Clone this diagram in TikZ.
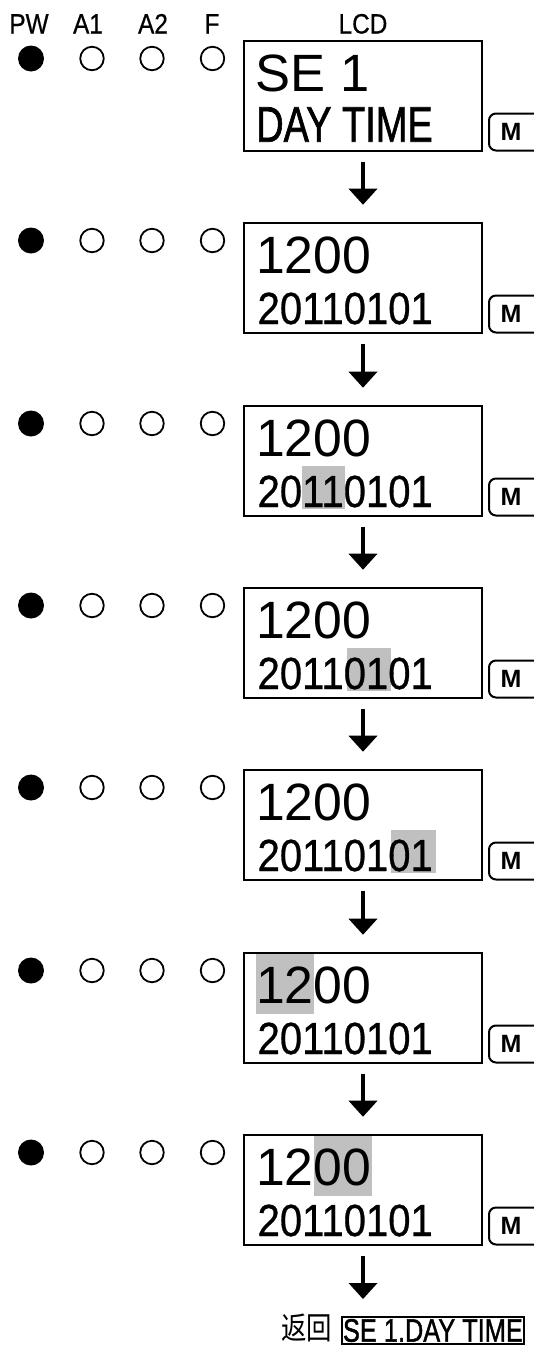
\documentclass[tikz,border=0pt]{standalone}
\usepackage{fontspec}
\setmainfont{Liberation Sans}
\newfontfamily\narrowfont[FakeBold=1.5]{Liberation Sans}
\newfontfamily\midfont[FakeBold=0.7]{Liberation Sans}
\newfontfamily\cjk{Noto Sans CJK SC}
\usepackage{graphicx}
\usetikzlibrary{arrows.meta,backgrounds}
\newcommand\fs[1]{\fontsize{#1}{#1}\selectfont}
\definecolor{hlgray}{RGB}{192,192,192}
\begin{document}
\begin{tikzpicture}[x=1pt,y=-1pt,
  lcd/.style={draw,line width=2.3pt,minimum width=238pt,minimum height=110pt,inner sep=0pt,outer sep=0pt,anchor=north west},
  ledon/.style={circle,fill=black,minimum size=26pt,inner sep=0pt},
  ledoff/.style={circle,draw,line width=1.8pt,minimum size=23.5pt,inner sep=0pt},
  hdr/.style={inner sep=0pt,anchor=base,font=\midfont\fs{28}},
  big/.style={inner sep=0pt,anchor=base west,font=\fs{52.5}},
  small/.style={inner sep=0pt,anchor=base west,font=\midfont\fs{45}},
  btn/.style={draw,line width=2pt,rounded corners=7pt,anchor=west,minimum height=37pt,minimum width=72pt,inner sep=0pt,outer sep=0pt},
  btntext/.style={inner sep=0pt,font=\fs{25}\bfseries},
  flow/.style={line width=3.7pt,-{Triangle[width=29pt,length=16pt,line width=0pt]}}
]
\useasboundingbox (0,0) rectangle (534,1347);
\clip (0,0) rectangle (534,1347);
% headers
\node[hdr] (hpw) at (29,33.5) {\scalebox{0.87}[1]{PW}};
\node[hdr] (ha1) at (88,33.5) {\scalebox{0.87}[1]{A1}};
\node[hdr] (ha2) at (153,33.5) {\scalebox{0.87}[1]{A2}};
\node[hdr] (hf) at (212,33.5) {\scalebox{0.87}[1]{F}};
\node[hdr] (hlcd) at (363,33.5) {\scalebox{0.87}[1]{LCD}};
% rows
\foreach \i in {1,...,7}{
  \pgfmathsetmacro\T{41+round(182.3*(\i-1))}
  \pgfmathsetmacro\C{\T+17.5}
  \pgfmathsetmacro\M{\T+91}
  \node[lcd] (b\i) at (244,\T) {};
  \node[ledon] (pw\i) at (31,\C) {};
  \node[ledoff] (aa\i) at (92,\C) {};
  \node[ledoff] (ab\i) at (152,\C) {};
  \node[ledoff] (f\i) at (212.5,\C) {};
  \node[btn] (m\i) at (489,\M) {};
  \node[btntext] (ml\i) at (511,\M) {M};
}
% texts
\node[big] (t1a) at ([xshift=11.6pt,yshift=-50pt]b1.north west) {SE 1};
\node[inner sep=0pt,anchor=base west,font=\narrowfont\fs{50}] (t1b) at ([xshift=12pt,yshift=-100.7pt]b1.north west) {\scalebox{0.76}[1]{DAY TIME}};
\foreach \i in {2,...,7}{
  \node[big] (ta\i) at ([xshift=12pt,yshift=-50pt]b\i.north west) {\scalebox{0.985}[1]{1200}};
  \node[small] (tb\i) at ([xshift=13.4pt,yshift=-101pt]b\i.north west) {\scalebox{0.89}[1]{20110101}};
}
% highlights
\begin{scope}[on background layer]
\fill[hlgray] ([xshift=58pt,yshift=-60pt]b3.north west) rectangle ([xshift=101pt,yshift=-102.5pt]b3.north west);
\fill[hlgray] ([xshift=102.6pt,yshift=-60pt]b4.north west) rectangle ([xshift=147.2pt,yshift=-102.5pt]b4.north west);
\fill[hlgray] ([xshift=147.2pt,yshift=-60pt]b5.north west) rectangle ([xshift=191.8pt,yshift=-102.5pt]b5.north west);
\fill[hlgray] ([xshift=12pt,yshift=0pt]b6.north west) rectangle ([xshift=70pt,yshift=-60.5pt]b6.north west);
\fill[hlgray] ([xshift=70pt,yshift=0pt]b7.north west) rectangle ([xshift=127.7pt,yshift=-61pt]b7.north west);
\end{scope}
% arrows
\foreach \i/\j in {1/2,2/3,3/4,4/5,5/6,6/7}{
  \draw[flow] ([yshift=-11pt]b\i.south) -- ([yshift=18.3pt]b\j.north);
}
\coordinate (end) at ([yshift=-54pt]b7.south);
\draw[flow] ([yshift=-11pt]b7.south) -- (end);
% bottom
\node[inner sep=0pt,anchor=base west,font=\cjk\fs{31}] (ret) at (281,1339.5) {\scalebox{0.82}[1]{返回}};
\node[draw,line width=2pt,outer sep=0pt,inner xsep=1pt,inner ysep=2pt,anchor=south west,font=\narrowfont\fs{32.5}] (dest) at (342,1344) {\scalebox{0.78}[1]{SE 1.DAY TIME}};
\end{tikzpicture}
\end{document}
